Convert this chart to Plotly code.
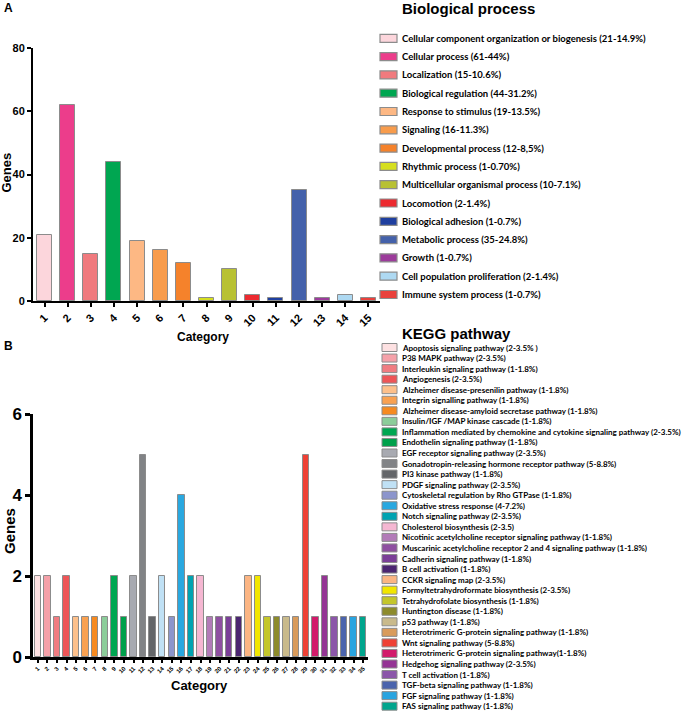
import plotly.graph_objects as go

W, H = 685, 715

# ---------------- data ----------------
bp_categories = list(range(1, 16))
bp_values = [21, 62, 15, 44, 19, 16, 12, 1, 10, 2, 1, 35, 1, 2, 1]
bp_names = [
    "Cellular component organization or biogenesis (21-14.9%)",
    "Cellular process (61-44%)",
    "Localization (15-10.6%)",
    "Biological regulation (44-31.2%)",
    "Response to stimulus (19-13.5%)",
    "Signaling (16-11.3%)",
    "Developmental process (12-8,5%)",
    "Rhythmic process (1-0.70%)",
    "Multicellular organismal process (10-7.1%)",
    "Locomotion (2-1.4%)",
    "Biological adhesion (1-0.7%)",
    "Metabolic process (35-24.8%)",
    "Growth (1-0.7%)",
    "Cell population proliferation (2-1.4%)",
    "Immune system process (1-0.7%)",
]
bp_colors = ["#fcd6dc", "#ec3d8b", "#f07a7e", "#00a651", "#fdb884", "#f89c4c",
             "#f5822b", "#d6df1f", "#b8c133", "#ec2a30", "#1f3f9f", "#4461aa",
             "#9c3b9b", "#aed9f2", "#e9413c"]

kegg_categories = list(range(1, 36))
kegg_values = [2, 2, 1, 2, 1, 1, 1, 1, 2, 1, 2, 5, 1, 2, 1, 4, 2, 2, 1, 1,
               1, 1, 2, 2, 1, 1, 1, 1, 5, 1, 2, 1, 1, 1, 1]
kegg_names = [
    "Apoptosis signaling pathway (2-3.5% )",
    "P38 MAPK pathway (2-3.5%)",
    "Interleukin signaling pathway (1-1.8%)",
    "Angiogenesis (2-3.5%)",
    "Alzheimer disease-presenilin pathway (1-1.8%)",
    "Integrin signalling pathway (1-1.8%)",
    "Alzheimer disease-amyloid secretase pathway (1-1.8%)",
    "Insulin/IGF /MAP kinase cascade (1-1.8%)",
    "Inflammation mediated by chemokine and cytokine signaling pathway (2-3.5%)",
    "Endothelin signaling pathway (1-1.8%)",
    "EGF receptor signaling pathway (2-3.5%)",
    "Gonadotropin-releasing hormone receptor pathway (5-8.8%)",
    "PI3 kinase pathway (1-1.8%)",
    "PDGF signaling pathway (2-3.5%)",
    "Cytoskeletal regulation by Rho GTPase (1-1.8%)",
    "Oxidative stress response (4-7.2%)",
    "Notch signaling pathway (2-3.5%)",
    "Cholesterol biosynthesis (2-3.5)",
    "Nicotinic acetylcholine receptor signaling pathway (1-1.8%)",
    "Muscarinic acetylcholine receptor 2 and 4 signaling pathway (1-1.8%)",
    "Cadherin signaling pathway (1-1.8%)",
    "B cell activation (1-1.8%)",
    "CCKR signaling map (2-3.5%)",
    "Formyltetrahydroformate biosynthesis (2-3.5%)",
    "Tetrahydrofolate biosynthesis (1-1.8%)",
    "Huntington disease (1-1.8%)",
    "p53 pathway (1-1.8%)",
    "Heterotrimeric G-protein signaling pathway (1-1.8%)",
    "Wnt signaling pathway (5-8.8%)",
    "Heterotrimeric G-protein signaling pathway(1-1.8%)",
    "Hedgehog signaling pathway (2-3.5%)",
    "T cell activation (1-1.8%)",
    "TGF-beta signaling pathway (1-1.8%)",
    "FGF signaling pathway (1-1.8%)",
    "FAS signaling pathway (1-1.8%)",
]
kegg_colors = ["#fde1e2", "#f5a1a9", "#f07c81", "#ee5557", "#fdc08b", "#f9a151",
               "#f68a20", "#8ccd9a", "#00a651", "#00a14b", "#a8aab1", "#818386",
               "#646669", "#c0e1f5", "#8c95cc", "#29a8e0", "#00a3b1", "#f5b7d2",
               "#b27bb8", "#8f50a1", "#7b3f98", "#4b2571", "#fbb583", "#f2e600",
               "#c4c62b", "#8d8b2b", "#c9ba8b", "#d99b5b", "#ee4135", "#d21b6b",
               "#943494", "#8b56a9", "#4b64ad", "#29a4e0", "#00a58d"]

# ---------------- helpers ----------------
def px(x):
    return x / W

def py(y):
    return 1 - y / H

FONT = "Liberation Sans"
LEG = "Lato"

fig = go.Figure()
fig.add_trace(go.Bar(
    x=bp_categories, y=bp_values, marker_color=bp_colors,
    marker_line=dict(color="#8c8c8c", width=1), width=0.65,
    xaxis="x", yaxis="y", showlegend=False, hoverinfo="skip"))
fig.add_trace(go.Bar(
    x=kegg_categories, y=kegg_values, marker_color=kegg_colors,
    marker_line=dict(color="#8c8c8c", width=1), width=0.68,
    xaxis="x2", yaxis="y2", showlegend=False, hoverinfo="skip"))

axis_common = dict(showgrid=False, zeroline=False, showline=True,
                   linecolor="black", ticks="outside", tickcolor="black",
                   mirror=False, automargin=False)

fig.update_layout(
    width=W, height=H, margin=dict(l=0, r=0, t=0, b=0, autoexpand=False),
    paper_bgcolor="white", plot_bgcolor="white",
    font=dict(family=FONT, color="black"),
    bargap=0,
    xaxis=dict(**axis_common, domain=[px(33), px(380)], range=[0.5, 15.5],
               tickmode="array", tickvals=bp_categories,
               ticktext=[str(c) for c in bp_categories], tickangle=-45,
               linewidth=2, ticklen=4, tickwidth=2,
               tickfont=dict(size=11, family=FONT, weight="bold"),
               anchor="y"),
    yaxis=dict(**axis_common, domain=[py(301), py(48)], range=[0, 80],
               tickvals=[0, 20, 40, 60, 80], linewidth=2, ticklen=4, tickwidth=2,
               tickfont=dict(size=11, family=FONT, weight="bold"),
               anchor="x"),
    xaxis2=dict(**axis_common, domain=[px(33), px(368)], range=[0.5, 35.5],
                tickmode="array", tickvals=kegg_categories,
                ticktext=[str(c) for c in kegg_categories], tickangle=-45,
                linewidth=2.5, ticklen=3, tickwidth=1.5,
                tickfont=dict(size=6, family=FONT, weight="bold"),
                anchor="y2"),
    yaxis2=dict(**axis_common, domain=[py(657), py(414)], range=[0, 6],
                tickvals=[0, 2, 4, 6], linewidth=2.5, ticklen=5, tickwidth=2.5,
                tickfont=dict(size=17, family=FONT, weight="bold"),
                anchor="x2"),
)

shapes = []
annotations = []

def label(x, y, text, size, xanchor="center", angle=0, family=FONT):
    annotations.append(dict(x=px(x), y=py(y), xref="paper", yref="paper", text=text,
                            showarrow=False, xanchor=xanchor, yanchor="middle",
                            textangle=angle, font=dict(size=size, family=family)))

# panel labels
label(2, 8, "<b>A</b>", 12, xanchor="left")
label(2, 346, "<b>B</b>", 12, xanchor="left")

# axis titles
label(6.5, 173, "<b>Genes</b>", 13, angle=-90)
label(203, 337, "<b>Category</b>", 12)
label(9, 531, "<b>Genes</b>", 15, angle=-90)
label(200, 685, "<b>Category</b>", 13)

# legend titles
label(400, 8.5, "<b>Biological process</b>", 15, xanchor="left")
label(400, 333.5, "<b>KEGG pathway</b>", 15, xanchor="left")

# legend A
for i, (name, col) in enumerate(zip(bp_names, bp_colors)):
    yc = 38.3 + 18.3 * i
    shapes.append(dict(type="rect", xref="paper", yref="paper",
                       x0=px(380), x1=px(397), y0=py(yc - 4), y1=py(yc + 4),
                       fillcolor=col, line=dict(color="#8c8c8c", width=1.2)))
    annotations.append(dict(x=px(400), y=py(yc), xref="paper", yref="paper", text=name,
                            showarrow=False, xanchor="left", yanchor="middle",
                            font=dict(size=9.5, family=LEG, weight="bold")))

# legend B
for i, (name, col) in enumerate(zip(kegg_names, kegg_colors)):
    yc = 347.5 + 10.55 * i
    shapes.append(dict(type="rect", xref="paper", yref="paper",
                       x0=px(382), x1=px(397), y0=py(yc - 4), y1=py(yc + 4),
                       fillcolor=col, line=dict(color="#8c8c8c", width=1)))
    annotations.append(dict(x=px(399.5), y=py(yc), xref="paper", yref="paper", text=name,
                            showarrow=False, xanchor="left", yanchor="middle",
                            font=dict(size=8.0, family=LEG, weight="bold")))

fig.update_layout(shapes=shapes, annotations=annotations)
fig.write_html("out.html", config={"displayModeBar": False},
               post_script="document.body.style.margin='0';")
